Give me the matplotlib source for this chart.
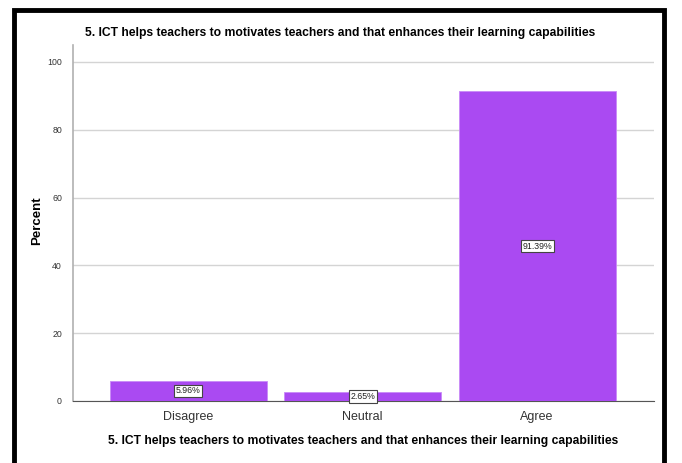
import matplotlib.pyplot as plt
from matplotlib.patches import Rectangle

categories = ["Disagree", "Neutral", "Agree"]
percents = [5.96, 2.65, 91.39]
yticks = [0, 20, 40, 60, 80, 100]
title = "5. ICT helps teachers to motivates teachers and that enhances their learning capabilities"

plt.rcParams['font.family'] = ['Liberation Sans', 'DejaVu Sans']

fig = plt.figure(figsize=(6.82, 4.63), dpi=100)
ax = fig.add_axes([73 / 682, 1 - 401 / 463, 581 / 682, 356 / 463])

x = range(len(categories))
ax.bar(x, percents, width=0.9, color='#aa4af2', edgecolor='#c98af7', linewidth=0.6, zorder=3)

for i, v in enumerate(percents):
    ax.text(i, v / 2, f"{v:.2f}%", ha='center', va='center', fontsize=6.3, color='#222222', zorder=4,
            bbox=dict(boxstyle='square,pad=0.2', facecolor='white', edgecolor='#444444', linewidth=0.8))

ax.set_xlim(-0.66, 2.67)
ax.set_ylim(0, 105)
ax.set_xticks(list(x))
ax.set_xticklabels(categories, fontsize=9, color='#333333')
ax.set_yticks(yticks)
ax.set_yticklabels([str(t) for t in yticks], fontsize=6.3, color='#333333')
ax.tick_params(axis='x', length=0, pad=7)
ax.tick_params(axis='y', length=0, pad=8)
ax.grid(axis='y', color='#d4d4d4', linewidth=1, zorder=0)
for s in ['top', 'right']:
    ax.spines[s].set_visible(False)
ax.spines['left'].set_color('#b0b0b0')
ax.spines['bottom'].set_color('#555555')
ax.spines['left'].set_linewidth(1.2)

ax.set_xlabel(title, fontsize=8.7, fontweight='bold', labelpad=9)
fig.text(37 / 682, 1 - 221 / 463, "Percent", rotation=90, ha='center', va='center',
         fontsize=9.5, fontweight='bold')

fig.text(340 / 682, 1 - 33 / 463, title, ha='center', va='center', fontsize=8.7, fontweight='bold')

# black frame around the chart
fig.patches.append(Rectangle((14 / 682, -0.05), 650 / 682, 1.05 - 9.5 / 463, transform=fig.transFigure,
                             fill=False, edgecolor='black', linewidth=3.5))

fig.savefig('out.png', dpi=100)
